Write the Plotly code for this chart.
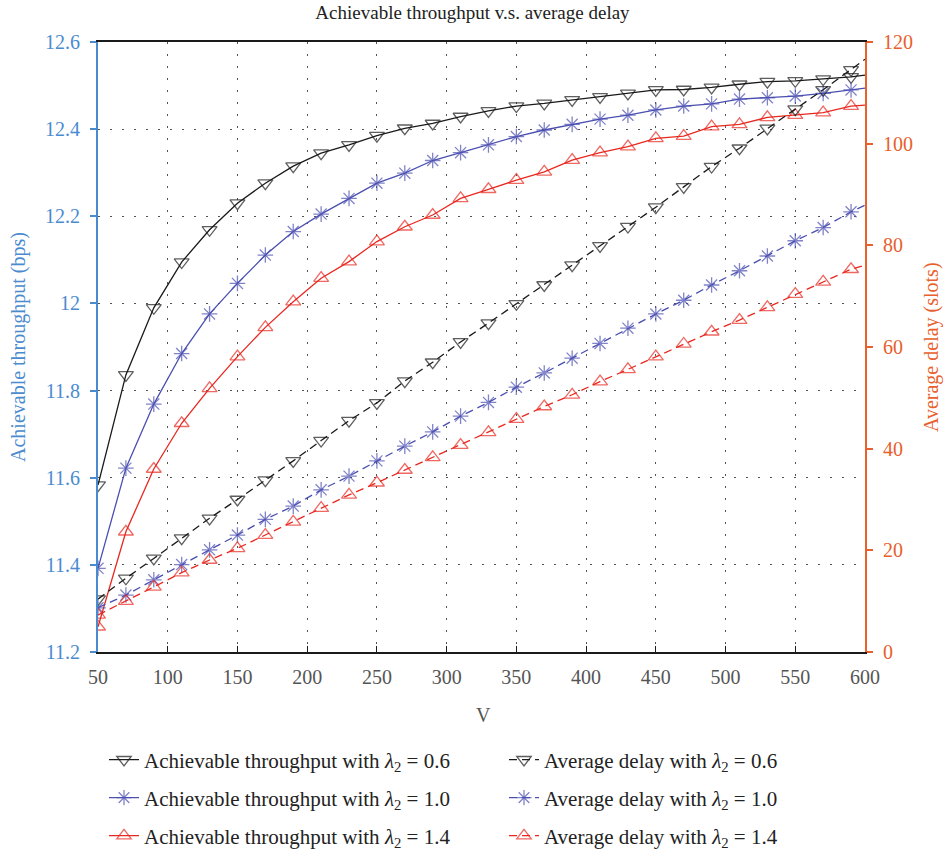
import plotly.graph_objects as go

# ---------------- data ----------------
V = [50, 70, 90, 110, 130, 150, 170, 190, 210, 230, 250, 270, 290, 310, 330,
     350, 370, 390, 410, 430, 450, 470, 490, 510, 530, 550, 570, 590, 600]

thr_06 = [11.583, 11.836, 11.990, 12.095, 12.169, 12.230, 12.276, 12.315, 12.345, 12.364,
          12.385, 12.402, 12.413, 12.429, 12.442, 12.453, 12.459, 12.467, 12.474, 12.482,
          12.490, 12.491, 12.496, 12.503, 12.509, 12.511, 12.515, 12.520, 12.524]
thr_10 = [11.392, 11.622, 11.769, 11.885, 11.976, 12.046, 12.111, 12.165, 12.205, 12.241,
          12.276, 12.299, 12.328, 12.346, 12.364, 12.383, 12.398, 12.411, 12.423, 12.432,
          12.444, 12.453, 12.458, 12.469, 12.472, 12.476, 12.482, 12.490, 12.494]
thr_14 = [11.258, 11.476, 11.620, 11.725, 11.805, 11.878, 11.945, 12.004, 12.058, 12.096,
          12.142, 12.176, 12.203, 12.241, 12.262, 12.283, 12.302, 12.329, 12.346, 12.360,
          12.379, 12.384, 12.406, 12.411, 12.427, 12.432, 12.438, 12.453, 12.455]

delay_06 = [10.4, 14.5, 18.4, 22.4, 26.3, 30.0, 33.8, 37.6, 41.6, 45.5, 49.0, 53.3, 57.0,
            61.0, 64.7, 68.5, 72.2, 76.1, 79.9, 83.7, 87.5, 91.5, 95.5, 99.1, 103.0, 106.8,
            110.6, 114.5, 116.6]
delay_10 = [8.7, 11.2, 14.2, 17.2, 20.1, 23.0, 26.1, 28.7, 31.9, 34.6, 37.6, 40.5, 43.3,
            46.4, 49.1, 52.1, 54.9, 57.8, 60.7, 63.7, 66.5, 69.2, 72.2, 75.0, 77.9, 80.9,
            83.5, 86.6, 87.9]
delay_14 = [7.3, 10.0, 12.8, 15.6, 18.1, 20.4, 23.0, 25.6, 28.3, 30.9, 33.3, 35.8, 38.3,
            40.7, 43.2, 45.8, 48.3, 50.6, 53.2, 55.6, 58.1, 60.6, 63.0, 65.3, 67.8, 70.4,
            72.8, 75.3, 76.1]

lambdas = ["0.6", "1.0", "1.4"]

x_ticks = [50, 100, 150, 200, 250, 300, 350, 400, 450, 500, 550, 600]
y_ticks = [11.2, 11.4, 11.6, 11.8, 12.0, 12.2, 12.4, 12.6]
y_ticktext = ["11.2", "11.4", "11.6", "11.8", "12", "12.2", "12.4", "12.6"]
y2_ticks = [0, 20, 40, 60, 80, 100, 120]

# ---------------- style ----------------
FONT = "Liberation Serif, serif"
BLACK = "#1a1a1a"
BLUE = "#4a4fb0"
RED = "#e8281f"
LEFT_C = "#4a8bd0"
RIGHT_C = "#e8602c"
GRID_C = "#555555"
W, H = 945, 852
PL, PR, PT, PB = 98, 865, 42, 652   # plot area in pixels
PW, PH = PR - PL, PB - PT

def px_x(px):
    return (px - PL) / PW

def px_y(py):
    return (PB - py) / PH

colors = [BLACK, BLUE, RED]
symbols = ["triangle-down-open", "asterisk-open", "triangle-up-open"]
thr_data = [thr_06, thr_10, thr_14]
delay_data = [delay_06, delay_10, delay_14]

msize = [13] * (len(V) - 1) + [0]

row_y = [760, 798, 836]          # legend row centres (px)
col_x = [104, 504]               # legend column left edges (px)

fig = go.Figure()
leg_layout = {}
k = 0
for i in range(3):
    for j, (yvals, yax, dash, label) in enumerate([
            (thr_data[i], "y", "solid", "Achievable throughput"),
            (delay_data[i], "y2", "8px,5px", "Average delay")]):
        k += 1
        lname = "legend" if k == 1 else f"legend{k}"
        fig.add_trace(go.Scatter(
            x=V, y=yvals, mode="lines+markers", yaxis=yax,
            name=f"{label} with <i>λ</i><sub>2</sub> = {lambdas[i]}",
            line=dict(color=colors[i], width=1.3, dash=dash),
            marker=dict(symbol=symbols[i], size=msize, color=colors[i],
                        line=dict(color=colors[i], width=1.3)),
            legend=lname,
        ))
        leg_layout[lname] = dict(
            xref="container", yref="container",
            x=col_x[j] / W, y=1 - row_y[i] / H,
            xanchor="left", yanchor="middle",
            font=dict(family=FONT, size=21, color="#222"),
            bgcolor="rgba(0,0,0,0)")

fig.update_layout(
    width=W, height=H,
    margin=dict(l=PL, r=W - PR, t=PT, b=H - PB, autoexpand=False),
    paper_bgcolor="white", plot_bgcolor="white",
    font=dict(family=FONT, color="#333"),
    title=dict(text="Achievable throughput v.s. average delay",
               x=0.5, xanchor="center", y=1 - 12 / H, yanchor="middle",
               yref="container", font=dict(family=FONT, size=19, color="#222")),
    showlegend=True,
    **leg_layout,
    xaxis=dict(
        range=[50, 600], tickvals=x_ticks, ticks="inside", ticklen=6,
        tickcolor=BLACK, tickwidth=1.2, automargin=False, ticklabelstandoff=6,
        showline=True, linecolor=BLACK, linewidth=1.5, mirror=True,
        showgrid=True, gridcolor=GRID_C, gridwidth=1.2, griddash="1.5px,10.5px",
        zeroline=False,
        tickfont=dict(family=FONT, size=20, color="#555"),
    ),
    yaxis=dict(
        range=[11.2, 12.6], tickvals=y_ticks, ticktext=y_ticktext,
        ticks="outside", ticklen=6, tickcolor=LEFT_C, tickwidth=1.5,
        showline=True, linecolor=LEFT_C, linewidth=2, automargin=False,
        ticklabelstandoff=6,
        showgrid=True, gridcolor=GRID_C, gridwidth=1.2, griddash="1.5px,10.5px",
        zeroline=False,
        tickfont=dict(family=FONT, size=20, color=LEFT_C),
    ),
    yaxis2=dict(
        range=[0, 120], tickvals=y2_ticks, overlaying="y", side="right",
        ticks="outside", ticklen=6, tickcolor=RIGHT_C, tickwidth=1.5,
        showline=True, linecolor=RIGHT_C, linewidth=2, automargin=False,
        ticklabelstandoff=6,
        showgrid=False, zeroline=False,
        tickfont=dict(family=FONT, size=20, color=RIGHT_C),
    ),
    annotations=[
        dict(text="V", xref="paper", yref="paper", x=px_x(483), y=px_y(715),
             xanchor="center", yanchor="middle", showarrow=False,
             font=dict(family=FONT, size=20, color="#555")),
        dict(text="Achievable throughput (bps)", xref="paper", yref="paper",
             x=px_x(18), y=0.5, textangle=-90, xanchor="center", yanchor="middle",
             showarrow=False, font=dict(family=FONT, size=20, color=LEFT_C)),
        dict(text="Average delay (slots)", xref="paper", yref="paper",
             x=px_x(931), y=0.5, textangle=-90, xanchor="center", yanchor="middle",
             showarrow=False, font=dict(family=FONT, size=20, color=RIGHT_C)),
    ],
)

fig.write_html("out.html",
               config={"displayModeBar": False},
               post_script="document.body.style.margin='0px';")
